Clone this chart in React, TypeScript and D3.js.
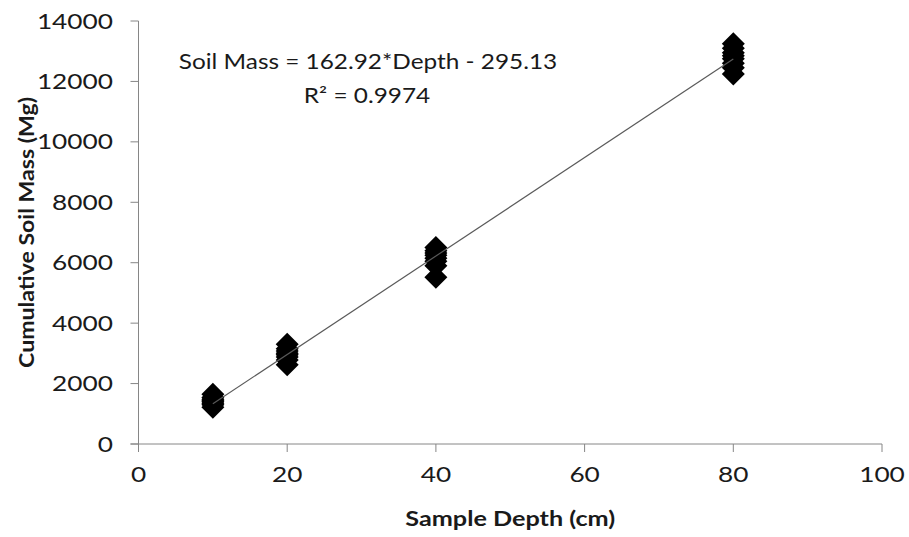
import React from "react";
import * as d3 from "d3";

const depth10 = [1220, 1300, 1350, 1400, 1430, 1480, 1540, 1650];
const depth20 = [2620, 2780, 2880, 2950, 3000, 3080, 3150, 3300];
const depth40 = [5520, 5900, 6050, 6150, 6250, 6320, 6400, 6500];
const depth80 = [12250, 12450, 12600, 12750, 12850, 12950, 13100, 13250];
const depths = [10, 20, 40, 80];
const xTicks = [0, 20, 40, 60, 80, 100];
const yTicks = [0, 2000, 4000, 6000, 8000, 10000, 12000, 14000];
const slope = 162.92;
const intercept = -295.13;
const equationText = "Soil Mass = 162.92*Depth - 295.13";
const r2Text = "R² = 0.9974";
const xTitle = "Sample Depth (cm)";
const yTitle = "Cumulative Soil Mass (Mg)";

function SText(props: {
  x: number;
  y: number;
  sx: number;
  sy?: number;
  rotate?: number;
  anchor: string;
  size: number;
  bold?: boolean;
  dy?: string;
  children: React.ReactNode;
}) {
  const { x, y, sx, sy = 1, rotate = 0, anchor, size, bold, dy, children } = props;
  return (
    <text
      transform={`translate(${x},${y}) rotate(${rotate}) scale(${sx},${sy})`}
      textAnchor={anchor}
      fontSize={size}
      fontWeight={bold ? "bold" : "normal"}
      dy={dy}
    >
      {children}
    </text>
  );
}

export default function App() {
  const W = 909, H = 537;
  const x = d3.scaleLinear().domain([0, 100]).range([138.5, 882]);
  const y = d3.scaleLinear().domain([0, 14000]).range([444, 21]);
  const groups = [depth10, depth20, depth40, depth80];
  const points = groups.flatMap((vals, i) => vals.map((v) => ({ d: depths[i], v })));
  const h = 11.5;
  const diamond = `M0,${-h}L${h},0L0,${h}L${-h},0Z`;
  const font = "Lato, 'Open Sans', sans-serif";
  const axisColor = "#868686";
  const textColor = "#1a1a1a";
  const line = d3.line<number>().x((d) => x(d)).y((d) => y(slope * d + intercept));
  const xMin = d3.min(depths)!, xMax = d3.max(depths)!;
  return (
    <svg width={W} height={H} style={{ position: "absolute", left: 0, top: 0, background: "#fff" }}>
      <g fontFamily={font} fill={textColor}>
        {/* y axis */}
        <line x1={x(0)} x2={x(0)} y1={y(0)} y2={y(14000)} stroke={axisColor} strokeWidth={1} />
        {yTicks.map((t) => (
          <g key={"y" + t}>
            <line x1={x(0) - 8} x2={x(0)} y1={y(t)} y2={y(t)} stroke={axisColor} />
            <SText x={113} y={y(t)} sx={1.25} anchor="end" size={21} dy="0.36em">
              {t}
            </SText>
          </g>
        ))}
        {/* x axis */}
        <line x1={x(0) - 8} x2={x(100)} y1={y(0)} y2={y(0)} stroke={axisColor} />
        {xTicks.map((t) => (
          <g key={"x" + t}>
            <line x1={x(t)} x2={x(t)} y1={y(0)} y2={y(0) + 8} stroke={axisColor} />
            <SText x={x(t)} y={482} sx={1.25} anchor="middle" size={21}>
              {t}
            </SText>
          </g>
        ))}
        <SText x={(x(0) + x(100)) / 2} y={526} sx={1.2} anchor="middle" size={21} bold>
          {xTitle}
        </SText>
        <SText
          x={34}
          y={(y(0) + y(14000)) / 2}
          rotate={-90}
          sx={1.1}
          anchor="middle"
          size={21}
          bold
        >
          {yTitle}
        </SText>
        {/* points */}
        {points.map((p, i) => (
          <path key={i} d={diamond} transform={`translate(${x(p.d)},${y(p.v)})`} fill="#000" />
        ))}
        {/* trendline */}
        <path d={line([xMin, xMax]) || ""} stroke="#5a5a5a" strokeWidth={1.2} fill="none" />
        {/* equation */}
        <SText x={368} y={69} sx={1.16} anchor="middle" size={21}>
          {equationText}
        </SText>
        <SText x={367} y={103} sx={1.16} anchor="middle" size={21}>
          {r2Text}
        </SText>
      </g>
    </svg>
  );
}
